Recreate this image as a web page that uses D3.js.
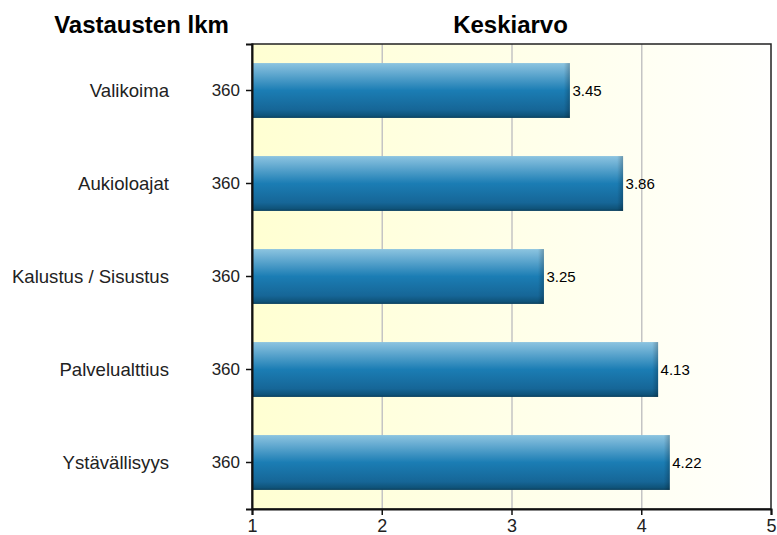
<!DOCTYPE html>
<html>
<head>
<meta charset="utf-8">
<script src="https://cdn.jsdelivr.net/npm/d3@7"></script>
<style>
  html, body { margin: 0; padding: 0; background: #ffffff; }
  svg { display: block; font-family: "Liberation Sans", Arial, sans-serif; }
</style>
</head>
<body>
<svg id="chart" width="777" height="535"></svg>
<script>
const categories = ["Valikoima", "Aukioloajat", "Kalustus / Sisustus", "Palvelualttius", "Ystävällisyys"];
const means = [3.45, 3.86, 3.25, 4.13, 4.22];
const counts = [360, 360, 360, 360, 360];
const xTicks = [1, 2, 3, 4, 5];
const titleLeft = "Vastausten lkm";
const titleRight = "Keskiarvo";

const svg = d3.select("#chart");
const plot = { left: 252, right: 771, top: 44, bottom: 509 };

const x = d3.scaleLinear().domain([1, 5]).range([plot.left, plot.right]);
const y = d3.scaleBand().domain(categories).range([plot.top, plot.bottom])
  .paddingInner(0.41).paddingOuter(0.205);

const defs = svg.append("defs");
const bg = defs.append("linearGradient").attr("id", "bg").attr("x1", 0).attr("x2", 1).attr("y1", 0).attr("y2", 0);
bg.append("stop").attr("offset", "0%").attr("stop-color", "#ffffd2");
bg.append("stop").attr("offset", "45%").attr("stop-color", "#ffffe6");
bg.append("stop").attr("offset", "100%").attr("stop-color", "#fffffd");

const bar = defs.append("linearGradient").attr("id", "bar").attr("x1", 0).attr("x2", 0).attr("y1", 0).attr("y2", 1);
[["0%", "#8cc4e0"], ["12%", "#72b3d6"], ["50%", "#1b7db4"], ["85%", "#166697"], ["96%", "#0f5379"], ["100%", "#0a3f5d"]]
  .forEach(([o, c]) => bar.append("stop").attr("offset", o).attr("stop-color", c));

const edge = defs.append("linearGradient").attr("id", "edge").attr("x1", 0).attr("x2", 1).attr("y1", 0).attr("y2", 0);
edge.append("stop").attr("offset", "0%").attr("stop-color", "#000").attr("stop-opacity", 0);
edge.append("stop").attr("offset", "100%").attr("stop-color", "#000").attr("stop-opacity", 0.22);

// plot background
svg.append("rect")
  .attr("x", plot.left).attr("y", plot.top)
  .attr("width", plot.right - plot.left).attr("height", plot.bottom - plot.top)
  .attr("fill", "url(#bg)");

// gridlines
svg.append("g").selectAll("line").data(xTicks.slice(1, -1)).join("line")
  .attr("x1", d => x(d) + 0.5).attr("x2", d => x(d) + 0.5)
  .attr("y1", plot.top).attr("y2", plot.bottom)
  .attr("stroke", "#c4c4c4").attr("stroke-width", 1.5);

// bars
const bars = svg.append("g");
bars.selectAll("rect.b").data(categories).join("rect").attr("class", "b")
  .attr("x", x(1)).attr("y", d => y(d))
  .attr("width", (d, i) => x(means[i]) - x(1)).attr("height", y.bandwidth())
  .attr("fill", "url(#bar)");
bars.selectAll("rect.e").data(categories).join("rect").attr("class", "e")
  .attr("x", (d, i) => x(means[i]) - 6).attr("y", d => y(d))
  .attr("width", 6).attr("height", y.bandwidth())
  .attr("fill", "url(#edge)");

// value labels
svg.append("g").selectAll("text").data(categories).join("text")
  .attr("x", (d, i) => x(means[i]) + 2.5)
  .attr("y", d => y(d) + y.bandwidth() / 2)
  .attr("dy", "0.35em")
  .attr("font-size", 15).attr("fill", "#000")
  .text((d, i) => means[i].toFixed(2));

// plot border
svg.append("rect")
  .attr("x", plot.left).attr("y", plot.top)
  .attr("width", plot.right - plot.left).attr("height", plot.bottom - plot.top)
  .attr("fill", "none").attr("stroke", "#222").attr("stroke-width", 1.5);

// left axis (counts)
const yAxis = d3.axisLeft(y).tickSize(6).tickPadding(6)
  .tickFormat(d => counts[categories.indexOf(d)]);
const ga = svg.append("g").attr("transform", `translate(${plot.left},0)`).call(yAxis);
ga.select(".domain").attr("stroke", "#111").attr("stroke-width", 2);
ga.selectAll(".tick line").attr("stroke", "#111").attr("stroke-width", 1.5);
ga.selectAll(".tick text").attr("font-size", 17).attr("fill", "#222")
  .attr("font-family", "'Liberation Sans', Arial, sans-serif");

// category labels
svg.append("g").selectAll("text").data(categories).join("text")
  .attr("x", 169).attr("y", d => y(d) + y.bandwidth() / 2)
  .attr("dy", "0.35em").attr("text-anchor", "end")
  .attr("font-size", 18.6).attr("fill", "#222")
  .text(d => d);

// bottom axis
const xAxis = d3.axisBottom(x).tickValues(xTicks).tickSize(6).tickPadding(4).tickFormat(d3.format("d"));
const gx = svg.append("g").attr("transform", `translate(0,${plot.bottom})`).call(xAxis);
gx.select(".domain").attr("stroke", "#111").attr("stroke-width", 2);
gx.selectAll(".tick line").attr("stroke", "#111").attr("stroke-width", 1.5);
gx.selectAll(".tick text").attr("font-size", 18).attr("fill", "#222")
  .attr("font-family", "'Liberation Sans', Arial, sans-serif");

// titles
svg.append("text").attr("x", 141.5).attr("y", 33).attr("text-anchor", "middle")
  .attr("font-size", 24).attr("font-weight", "bold").attr("fill", "#000").text(titleLeft);
svg.append("text").attr("x", 510.5).attr("y", 33).attr("text-anchor", "middle")
  .attr("font-size", 24).attr("font-weight", "bold").attr("fill", "#000").text(titleRight);
</script>
</body>
</html>
